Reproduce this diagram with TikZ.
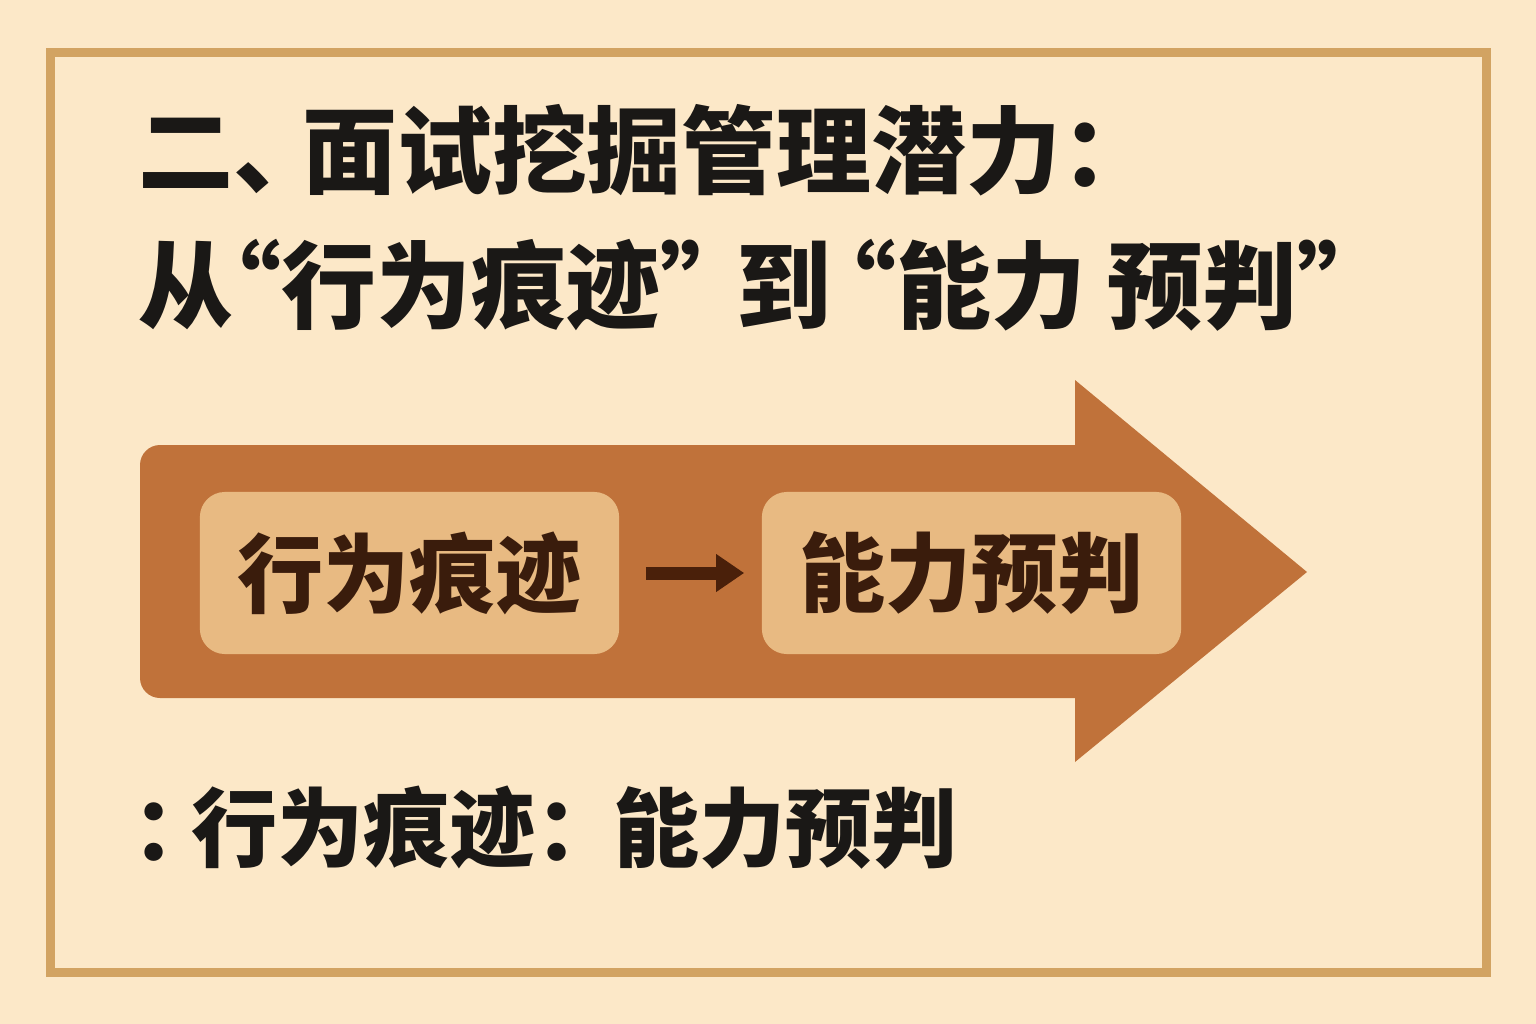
\documentclass[tikz,border=0pt]{standalone}
\usepackage{fontspec}
\setmainfont{Noto Sans CJK SC}
\newfontfamily\haltfont{Noto Sans CJK SC}[RawFeature=+halt]
\usetikzlibrary{arrows.meta}
\definecolor{bgc}{RGB}{252,232,200}
\definecolor{framec}{RGB}{210,163,98}
\definecolor{arrowc}{RGB}{192,114,58}
\definecolor{boxc}{RGB}{232,186,130}
\definecolor{boxtext}{RGB}{58,28,12}
\definecolor{smallarr}{RGB}{74,32,10}
\definecolor{titlec}{RGB}{26,24,22}
\tikzset{
  titletext/.style={anchor=west, inner sep=0pt, text=titlec, font=\haltfont\fontsize{27pt}{32pt}\selectfont\bfseries},
  stagebox/.style={fill=boxc, rounded corners=0.25cm, minimum width=4.19cm, minimum height=1.62cm, inner sep=0pt, text=boxtext, font=\fontsize{24.5pt}{30pt}\selectfont\bfseries},
  linkarrow/.style={draw=smallarr, line width=0.13cm, -{Triangle[length=0.28cm,width=0.36cm]}},
  bottomtext/.style={anchor=west, inner sep=0pt, text=titlec, font=\haltfont\fontsize{24.5pt}{29pt}\selectfont\bfseries}
}
\begin{document}
\begin{tikzpicture}[x=0.01cm,y=-0.01cm]
\useasboundingbox (0,0) rectangle (1536,1024);
\fill[bgc] (0,0) rectangle (1536,1024);
\draw[framec, line width=0.09cm] (50.5,52.5) rectangle (1486.5,972.5);
% titles
\node[titletext] (t1) at (138,150) {二、\hspace{0.22em}面试挖掘管理潜力：};
\node[titletext] (t2) at (138,285) {从“行为痕迹”\hspace{0.3em}到\hspace{0.18em}“能力 预判”};
% big arrow
\fill[arrowc, rounded corners=0.2cm] (140,445) rectangle (1100,698);
\fill[arrowc] (1075,380) -- (1307,572) -- (1075,762) -- cycle;
% boxes
\node[stagebox] (b1) at (409.5,573) {行为痕迹};
\node[stagebox] (b2) at (971.5,573) {能力预判};
\draw[linkarrow, shorten <=0.26cm, shorten >=0.17cm] (b1.east) -- (b2.west);
% bottom line
\node[bottomtext] (t3) at (132,828) {：\hspace{0.18em}行为痕迹：\hspace{0.4em}能力预判};
\end{tikzpicture}
\end{document}
